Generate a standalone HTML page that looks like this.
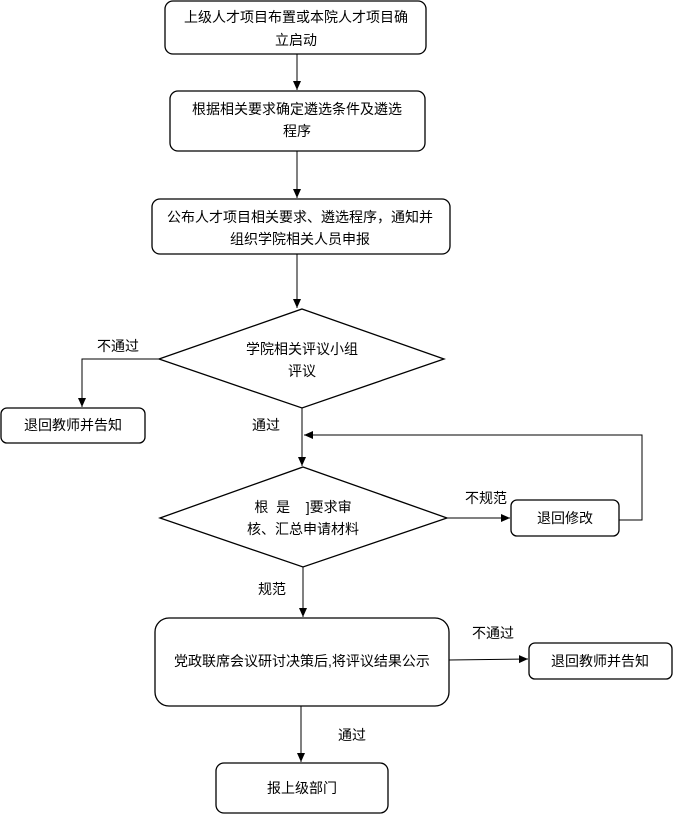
<!DOCTYPE html>
<html><head><meta charset="utf-8"><style>
html,body{margin:0;padding:0;background:#fff;}
svg text{font-family:"Liberation Sans","Noto Sans CJK SC",sans-serif;font-size:14px;fill:#000;}
</style></head><body>
<svg width="684" height="815" viewBox="0 0 684 815" xmlns="http://www.w3.org/2000/svg">
<defs><marker id="a" markerWidth="10" markerHeight="10" refX="9" refY="5" orient="auto" markerUnits="userSpaceOnUse"><path d="M0,1 L9,5 L0,9 z" fill="#000"/></marker></defs>
<g fill="none" stroke="#000" stroke-width="1.3">
<rect x="165" y="1" width="261" height="53" rx="8"/>
<rect x="170" y="91" width="255" height="60" rx="8"/>
<rect x="152" y="199" width="298" height="55" rx="8"/>
<polygon points="302,309 444,359 302,408 159,359"/>
<rect x="1" y="408" width="144" height="35" rx="6"/>
<polygon points="303,467 447,518 303,567 160,518"/>
<rect x="511" y="500" width="108" height="36" rx="6"/>
<rect x="155" y="618" width="294" height="88" rx="14"/>
<rect x="529" y="643" width="143" height="36" rx="6"/>
<rect x="216" y="763" width="172" height="50" rx="8"/>
</g>
<g fill="none" stroke="#000" stroke-width="1" marker-end="url(#a)">
<line x1="297" y1="54" x2="297" y2="90"/>
<line x1="297" y1="151" x2="297" y2="198"/>
<line x1="297" y1="254" x2="297" y2="308"/>
<polyline points="159,359 82,359 82,407"/>
<line x1="302" y1="408" x2="302" y2="466"/>
<polyline points="619,520 642,520 642,435 304,435"/>
<line x1="447" y1="518" x2="510" y2="518"/>
<line x1="303" y1="567" x2="303" y2="617"/>
<line x1="449" y1="660" x2="528" y2="659"/>
<line x1="301" y1="706" x2="301" y2="762"/>
</g>
<g text-anchor="middle">
<text x="296" y="22">上级人才项目布置或本院人才项目确</text>
<text x="296" y="45">立启动</text>
<text x="297" y="114">根据相关要求确定遴选条件及遴选</text>
<text x="297" y="136">程序</text>
<text x="300" y="222">公布人才项目相关要求、遴选程序，通知并</text>
<text x="300" y="244">组织学院相关人员申报</text>
<text x="302" y="354">学院相关评议小组</text>
<text x="302" y="376">评议</text>
<text x="73" y="430">退回教师并告知</text>
<text x="303" y="512">根&#160;&#160;是&#160;&#160;&#160;&#160;]要求审</text>
<text x="303" y="534">核、汇总申请材料</text>
<text x="565" y="523">退回修改</text>
<text x="302" y="666">党政联席会议研讨决策后,将评议结果公示</text>
<text x="600" y="666">退回教师并告知</text>
<text x="302" y="793">报上级部门</text>
</g>
<text x="97" y="351">不通过</text>
<text x="252" y="430">通过</text>
<text x="465" y="503">不规范</text>
<text x="258" y="594">规范</text>
<text x="472" y="638">不通过</text>
<text x="338" y="740">通过</text>
</svg>
</body></html>
